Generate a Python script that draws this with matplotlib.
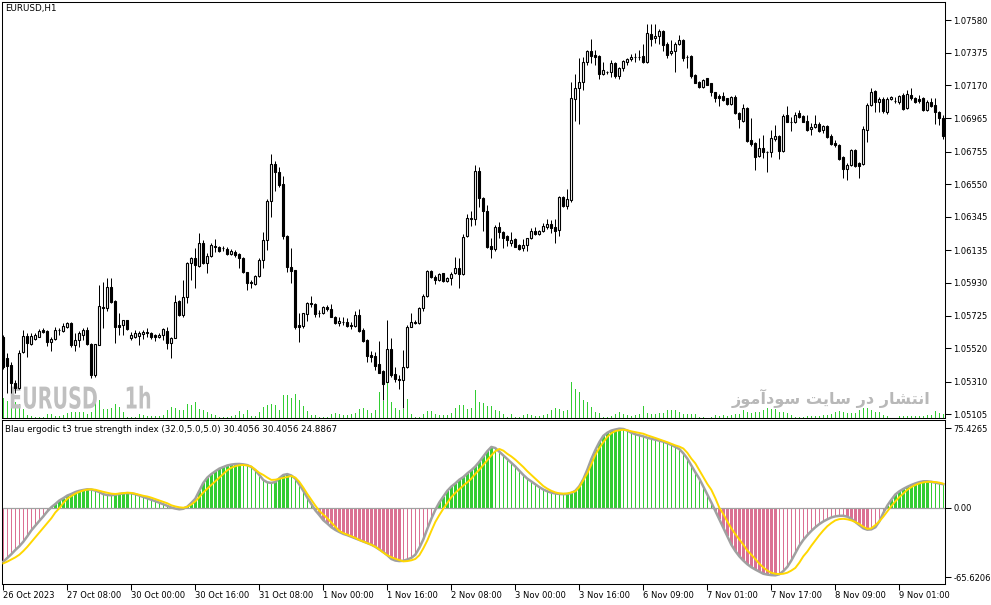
import numpy as np
import matplotlib
matplotlib.use("Agg")
import matplotlib.pyplot as plt
from matplotlib.patheffects import AbstractPathEffect
from matplotlib.transforms import Affine2D

plt.rcParams['font.family'] = ['DejaVu Sans']

# EURUSD H1 candles, 26 Oct 2023 16:00 .. 9 Nov 2023
opens = [1.05591, 1.05459, 1.05416, 1.05302, 1.05271, 1.05496, 1.05597, 1.05547, 1.05578, 1.05591,
         1.05635, 1.05629, 1.05559, 1.05578, 1.05635, 1.05629, 1.05654, 1.05679, 1.05541, 1.05572,
         1.05604, 1.05635, 1.05547, 1.05353, 1.05541, 1.05779, 1.05773, 1.05905, 1.05817, 1.05666,
         1.05666, 1.05698, 1.05585, 1.05591, 1.05597, 1.05610, 1.05622, 1.05616, 1.05604, 1.05591,
         1.05604, 1.05629, 1.05553, 1.05585, 1.05817, 1.05729, 1.05842, 1.06055, 1.06087, 1.06036,
         1.06181, 1.06055, 1.06099, 1.06162, 1.06156, 1.06149, 1.06143, 1.06112, 1.06124, 1.06112,
         1.06087, 1.05999, 1.05936, 1.05924, 1.05974, 1.06074, 1.06200, 1.06444, 1.06677, 1.06626,
         1.06551, 1.06225, 1.06030, 1.06011, 1.05666, 1.05660, 1.05735, 1.05804, 1.05798, 1.05742,
         1.05742, 1.05779, 1.05767, 1.05716, 1.05679, 1.05685, 1.05685, 1.05666, 1.05660, 1.05729,
         1.05635, 1.05572, 1.05478, 1.05472, 1.05422, 1.05378, 1.05309, 1.05516, 1.05359, 1.05328,
         1.05321, 1.05403, 1.05654, 1.05685, 1.05679, 1.05773, 1.05848, 1.06005, 1.05968, 1.05949,
         1.05992, 1.05942, 1.05961, 1.05992, 1.06024, 1.05986, 1.06225, 1.06331, 1.06331, 1.06633,
         1.06463, 1.06382, 1.06162, 1.06143, 1.06281, 1.06250, 1.06225, 1.06181, 1.06206, 1.06168,
         1.06149, 1.06168, 1.06212, 1.06256, 1.06237, 1.06256, 1.06281, 1.06300, 1.06281, 1.06262,
         1.06469, 1.06413, 1.06451, 1.07084, 1.07153, 1.07191, 1.07316, 1.07385, 1.07360, 1.07354,
         1.07241, 1.07254, 1.07254, 1.07310, 1.07229, 1.07279, 1.07316, 1.07335, 1.07348, 1.07348,
         1.07354, 1.07316, 1.07492, 1.07467, 1.07480, 1.07511, 1.07430, 1.07373, 1.07385, 1.07430,
         1.07455, 1.07348, 1.07354, 1.07235, 1.07191, 1.07160, 1.07216, 1.07185, 1.07128, 1.07103,
         1.07103, 1.07091, 1.07053, 1.07097, 1.06997, 1.06946, 1.07028, 1.06827, 1.06808, 1.06727,
         1.06777, 1.06752, 1.06752, 1.06834, 1.06852, 1.06758, 1.06984, 1.06940, 1.06940, 1.06997,
         1.06978, 1.06946, 1.06896, 1.06909, 1.06927, 1.06890, 1.06915, 1.06852, 1.06808, 1.06796,
         1.06720, 1.06645, 1.06670, 1.06764, 1.06683, 1.06677, 1.06890, 1.07047, 1.07134, 1.07065,
         1.07084, 1.07003, 1.07084, 1.07072, 1.07065, 1.07109, 1.07028, 1.07109, 1.07091, 1.07084,
         1.07091, 1.07015, 1.07065, 1.07047, 1.07003, 1.06965]
highs = [1.05604, 1.05490, 1.05434, 1.05321, 1.05509, 1.05635, 1.05616, 1.05616, 1.05616, 1.05641,
         1.05647, 1.05635, 1.05591, 1.05654, 1.05647, 1.05679, 1.05685, 1.05685, 1.05616, 1.05629,
         1.05647, 1.05654, 1.05553, 1.05547, 1.05918, 1.05936, 1.05961, 1.05961, 1.05823, 1.05742,
         1.05698, 1.05698, 1.05622, 1.05635, 1.05629, 1.05635, 1.05647, 1.05622, 1.05610, 1.05616,
         1.05647, 1.05654, 1.05591, 1.05855, 1.05823, 1.05949, 1.06062, 1.06093, 1.06149, 1.06244,
         1.06200, 1.06118, 1.06181, 1.06206, 1.06162, 1.06162, 1.06156, 1.06143, 1.06137, 1.06118,
         1.06093, 1.05999, 1.05949, 1.05980, 1.06087, 1.06250, 1.06457, 1.06739, 1.06695, 1.06658,
         1.06601, 1.06231, 1.06149, 1.06011, 1.05742, 1.05742, 1.05810, 1.05848, 1.05804, 1.05760,
         1.05785, 1.05792, 1.05798, 1.05723, 1.05716, 1.05716, 1.05710, 1.05685, 1.05754, 1.05767,
         1.05647, 1.05578, 1.05503, 1.05496, 1.05566, 1.05384, 1.05698, 1.05585, 1.05403, 1.05353,
         1.05509, 1.05666, 1.05742, 1.05698, 1.05779, 1.05861, 1.06011, 1.06011, 1.05980, 1.05992,
         1.05992, 1.05968, 1.05999, 1.06093, 1.06087, 1.06237, 1.06363, 1.06382, 1.06670, 1.06658,
         1.06469, 1.06419, 1.06212, 1.06294, 1.06313, 1.06256, 1.06231, 1.06250, 1.06212, 1.06175,
         1.06206, 1.06212, 1.06275, 1.06281, 1.06262, 1.06306, 1.06331, 1.06325, 1.06331, 1.06476,
         1.06476, 1.06520, 1.07191, 1.07241, 1.07342, 1.07348, 1.07392, 1.07461, 1.07392, 1.07360,
         1.07316, 1.07260, 1.07329, 1.07316, 1.07285, 1.07329, 1.07342, 1.07367, 1.07373, 1.07392,
         1.07430, 1.07555, 1.07555, 1.07555, 1.07524, 1.07517, 1.07442, 1.07455, 1.07442, 1.07486,
         1.07461, 1.07360, 1.07360, 1.07241, 1.07197, 1.07210, 1.07216, 1.07185, 1.07128, 1.07116,
         1.07128, 1.07091, 1.07103, 1.07109, 1.07003, 1.07053, 1.07034, 1.06965, 1.06815, 1.06840,
         1.06859, 1.06758, 1.06890, 1.06921, 1.06859, 1.06990, 1.07040, 1.06971, 1.07003, 1.07015,
         1.06984, 1.06984, 1.06934, 1.06984, 1.06940, 1.06921, 1.06921, 1.06865, 1.06827, 1.06802,
         1.06727, 1.06683, 1.06771, 1.06771, 1.06689, 1.06915, 1.07059, 1.07153, 1.07141, 1.07097,
         1.07097, 1.07097, 1.07103, 1.07097, 1.07109, 1.07122, 1.07141, 1.07153, 1.07097, 1.07109,
         1.07097, 1.07078, 1.07091, 1.07091, 1.07009, 1.06984]
lows = [1.05391, 1.05239, 1.05239, 1.05239, 1.05264, 1.05490, 1.05465, 1.05541, 1.05572, 1.05591,
        1.05616, 1.05534, 1.05503, 1.05572, 1.05604, 1.05622, 1.05647, 1.05528, 1.05503, 1.05528,
        1.05572, 1.05541, 1.05334, 1.05340, 1.05541, 1.05647, 1.05754, 1.05804, 1.05553, 1.05604,
        1.05604, 1.05635, 1.05572, 1.05585, 1.05541, 1.05578, 1.05591, 1.05578, 1.05566, 1.05585,
        1.05572, 1.05516, 1.05459, 1.05585, 1.05723, 1.05716, 1.05804, 1.05949, 1.05898, 1.06030,
        1.06049, 1.05992, 1.06093, 1.06124, 1.06124, 1.06131, 1.06105, 1.06105, 1.06093, 1.06024,
        1.05992, 1.05886, 1.05898, 1.05918, 1.05968, 1.06024, 1.06137, 1.06344, 1.06507, 1.06532,
        1.06206, 1.05999, 1.05930, 1.05641, 1.05559, 1.05647, 1.05691, 1.05779, 1.05716, 1.05716,
        1.05735, 1.05754, 1.05716, 1.05672, 1.05660, 1.05666, 1.05654, 1.05641, 1.05654, 1.05622,
        1.05559, 1.05434, 1.05434, 1.05384, 1.05365, 1.05196, 1.05309, 1.05340, 1.05309, 1.05264,
        1.05146, 1.05397, 1.05654, 1.05672, 1.05672, 1.05754, 1.05842, 1.05961, 1.05924, 1.05942,
        1.05936, 1.05936, 1.05918, 1.05986, 1.05898, 1.05980, 1.06219, 1.06287, 1.06294, 1.06407,
        1.06256, 1.06149, 1.06087, 1.06131, 1.06212, 1.06149, 1.06162, 1.06162, 1.06156, 1.06137,
        1.06131, 1.06131, 1.06206, 1.06231, 1.06231, 1.06250, 1.06269, 1.06244, 1.06181, 1.06225,
        1.06407, 1.06394, 1.06438, 1.06946, 1.06927, 1.07141, 1.07298, 1.07310, 1.07298, 1.07210,
        1.07235, 1.07241, 1.07222, 1.07216, 1.07210, 1.07260, 1.07298, 1.07323, 1.07316, 1.07329,
        1.07310, 1.07310, 1.07417, 1.07436, 1.07430, 1.07385, 1.07342, 1.07360, 1.07254, 1.07423,
        1.07323, 1.07279, 1.07216, 1.07185, 1.07153, 1.07153, 1.07172, 1.07103, 1.07065, 1.07040,
        1.07072, 1.07047, 1.07047, 1.06990, 1.06902, 1.06940, 1.06815, 1.06790, 1.06639, 1.06720,
        1.06714, 1.06626, 1.06720, 1.06821, 1.06708, 1.06752, 1.06940, 1.06883, 1.06934, 1.06965,
        1.06940, 1.06883, 1.06859, 1.06902, 1.06877, 1.06871, 1.06840, 1.06796, 1.06783, 1.06702,
        1.06588, 1.06576, 1.06664, 1.06658, 1.06588, 1.06670, 1.06815, 1.07040, 1.07003, 1.07003,
        1.06997, 1.06990, 1.07078, 1.07059, 1.07053, 1.07015, 1.07021, 1.07078, 1.07059, 1.07059,
        1.07009, 1.07009, 1.07034, 1.06927, 1.06921, 1.06834]
closes = [1.05403, 1.05409, 1.05302, 1.05271, 1.05490, 1.05597, 1.05553, 1.05597, 1.05604, 1.05629,
          1.05622, 1.05559, 1.05578, 1.05635, 1.05632, 1.05660, 1.05679, 1.05541, 1.05572, 1.05616,
          1.05635, 1.05547, 1.05353, 1.05547, 1.05785, 1.05773, 1.05905, 1.05810, 1.05654, 1.05654,
          1.05698, 1.05641, 1.05604, 1.05616, 1.05616, 1.05622, 1.05616, 1.05591, 1.05591, 1.05604,
          1.05641, 1.05553, 1.05585, 1.05810, 1.05729, 1.05842, 1.06055, 1.06087, 1.06043, 1.06181,
          1.06055, 1.06099, 1.06168, 1.06156, 1.06131, 1.06149, 1.06112, 1.06131, 1.06105, 1.06087,
          1.05999, 1.05930, 1.05930, 1.05974, 1.06074, 1.06200, 1.06444, 1.06677, 1.06626, 1.06545,
          1.06225, 1.06030, 1.06005, 1.05654, 1.05654, 1.05742, 1.05804, 1.05798, 1.05735, 1.05742,
          1.05779, 1.05767, 1.05716, 1.05679, 1.05691, 1.05685, 1.05660, 1.05660, 1.05729, 1.05629,
          1.05566, 1.05472, 1.05465, 1.05409, 1.05365, 1.05296, 1.05516, 1.05353, 1.05328, 1.05321,
          1.05403, 1.05654, 1.05685, 1.05679, 1.05773, 1.05848, 1.06005, 1.05968, 1.05949, 1.05986,
          1.05942, 1.05961, 1.05986, 1.06024, 1.05986, 1.06219, 1.06338, 1.06338, 1.06633, 1.06463,
          1.06382, 1.06156, 1.06143, 1.06281, 1.06250, 1.06212, 1.06200, 1.06200, 1.06156, 1.06143,
          1.06168, 1.06212, 1.06256, 1.06237, 1.06256, 1.06287, 1.06300, 1.06275, 1.06256, 1.06469,
          1.06413, 1.06457, 1.07091, 1.07153, 1.07191, 1.07316, 1.07385, 1.07354, 1.07348, 1.07241,
          1.07266, 1.07254, 1.07310, 1.07229, 1.07279, 1.07323, 1.07335, 1.07348, 1.07348, 1.07348,
          1.07316, 1.07498, 1.07461, 1.07480, 1.07511, 1.07423, 1.07360, 1.07385, 1.07430, 1.07455,
          1.07342, 1.07348, 1.07229, 1.07185, 1.07160, 1.07204, 1.07172, 1.07128, 1.07091, 1.07091,
          1.07078, 1.07053, 1.07097, 1.06997, 1.06959, 1.07028, 1.06821, 1.06802, 1.06720, 1.06777,
          1.06752, 1.06752, 1.06840, 1.06852, 1.06758, 1.06978, 1.06940, 1.06940, 1.06984, 1.06971,
          1.06940, 1.06890, 1.06909, 1.06927, 1.06883, 1.06915, 1.06846, 1.06802, 1.06796, 1.06708,
          1.06645, 1.06670, 1.06764, 1.06664, 1.06664, 1.06896, 1.07047, 1.07128, 1.07065, 1.07084,
          1.07009, 1.07084, 1.07097, 1.07072, 1.07103, 1.07021, 1.07116, 1.07091, 1.07065, 1.07072,
          1.07015, 1.07065, 1.07040, 1.07003, 1.06965, 1.06852]
# tick volumes
volumes = [2000, 1700, 1500, 1600, 1400, 900, 300, 200, 150, 100,
           100, 400, 400, 200, 200, 300, 500, 600, 600, 600,
           600, 400, 600, 1500, 1800, 900, 900, 1000, 1400, 1100,
           600, 100, 100, 100, 400, 300, 200, 200, 200, 200,
           300, 800, 1100, 1000, 800, 800, 1400, 1300, 1600, 900,
           800, 600, 400, 300, 100, 100, 100, 200, 300, 700,
           400, 800, 200, 200, 600, 1100, 1300, 1400, 1300, 800,
           2300, 2300, 2000, 2400, 1800, 1200, 700, 300, 300, 100,
           100, 100, 400, 500, 400, 300, 300, 400, 500, 900,
           1000, 800, 500, 800, 2600, 1700, 3500, 1600, 1000, 800,
           900, 1900, 400, 100, 100, 400, 700, 700, 400, 300,
           300, 300, 500, 1000, 1300, 1300, 900, 1000, 2800, 1600,
           1500, 1200, 1200, 800, 700, 400, 100, 400, 100, 100,
           300, 400, 300, 200, 200, 300, 400, 800, 1000, 900,
           700, 800, 3600, 2900, 2600, 1800, 1600, 1100, 600, 500,
           100, 100, 200, 400, 600, 400, 300, 200, 300, 400,
           1200, 500, 400, 400, 500, 500, 800, 800, 800, 600,
           400, 400, 400, 400, 100, 100, 50, 100, 300, 200,
           300, 200, 300, 400, 400, 800, 600, 500, 600, 600,
           800, 1000, 900, 900, 600, 600, 500, 300, 100, 100,
           100, 200, 200, 200, 200, 300, 300, 400, 600, 700,
           600, 500, 500, 500, 800, 1000, 1000, 800, 600, 600,
           300, 200, 50, 50, 200, 200, 200, 200, 200, 200,
           200, 300, 300, 700, 500, 400]

# Blau ergodic T3 TSI: main line (also the histogram) and signal
tsi_main = [-51.1, -47.5, -44, -40, -36.5, -32.2, -27, -21.5, -17, -12.5,
            -8.2, -3.5, 0.5, 3.5, 6.8, 9, 11.5, 13, 14.8, 16,
            16.8, 17.4, 17.2, 16.2, 14.8, 12.8, 12, 11.8, 12.3, 13,
            13.6, 13.8, 13.6, 12.8, 11.5, 10.2, 9, 7.6, 6.2, 4.8,
            3.3, 1.8, 0.2, -0.8, -1.5, -1, 1, 4.5, 8.5, 16,
            23.5, 28.5, 31.8, 34.5, 37, 38.5, 40, 40.8, 41.3, 41.4,
            41, 40.3, 38.5, 35.5, 31, 26.2, 24, 23.5, 24.3, 28,
            31, 31.8, 30.5, 27.5, 22, 16, 9.5, 3.5, -2.5, -7,
            -11.8, -15, -18.5, -21, -23, -24.8, -26, -27.5, -29, -30.5,
            -32, -33.5, -35, -37, -39.5, -42, -45, -48.5, -50, -50.5,
            -50.2, -49, -47.5, -44.5, -38, -30, -20, -10.5, -2, 5,
            10.5, 16, 20, 23, 26.5, 29, 32.5, 35.5, 39, 43.5,
            48.5, 53.5, 57.5, 56.5, 53, 49.5, 46, 42.5, 39, 35,
            31, 27.5, 24.8, 22, 19.5, 17.2, 15.5, 14.3, 13.5, 13,
            12.8, 13, 13.9, 16, 20.3, 27, 36, 46, 54.5, 62,
            68, 71, 73, 74, 74.8, 74.5, 73, 71, 69.5, 68.5,
            67.5, 66.2, 65.3, 64.5, 63.5, 62.5, 61, 59.5, 57.5, 55.5,
            51.5, 46.5, 40, 33.5, 27.5, 20, 12.5, 5, -3, -11,
            -19, -27, -35, -41, -46, -50, -53.5, -56.3, -58.5, -60.5,
            -62.5, -63.3, -63.8, -64, -63, -60, -56, -50, -43, -36,
            -30.5, -26, -22, -18.5, -15.5, -13, -11, -9.2, -8.2, -7.7,
            -7.6, -8.5, -10.5, -13.5, -16.5, -19.5, -20.8, -20.5, -18.5, -13,
            -5, 2, 7.5, 12.5, 15.5, 17.8, 19.8, 21.5, 23, 24.2,
            25, 25, 24.5, 23.7, 23, 22.2]
tsi_signal = [-52.7, -51, -49, -47, -44.5, -41, -37, -32.5, -28, -23.5,
              -19, -14.5, -10, -4.5, -0.5, 4.5, 8.5, 11, 13.3, 15,
              16.3, 17.2, 17.4, 17, 16, 15, 14.2, 13.3, 13, 13.4,
              13.9, 14.2, 14, 13.2, 12.2, 11.3, 10.6, 9.5, 8.2, 6.8,
              5.6, 4.2, 2.3, 1.2, 0.4, 0, 0.8, 3, 6, 10,
              14.5, 18, 21.5, 25, 28.5, 32, 35.5, 37.8, 39.3, 40.2,
              40.4, 40, 39, 36, 33, 31, 28.5, 26.3, 26.5, 27.4,
              28.3, 29.3, 30, 28.5, 24.5, 19, 13, 7.5, 2, -3,
              -6.5, -10, -14, -18, -22, -24, -25.5, -27, -28.5, -30.5,
              -32, -33.5, -35, -36.9, -39.5, -42.5, -45, -46.8, -48.3, -49.5,
              -50.8, -50.5, -49.8, -48.5, -45, -38.5, -31, -22, -13.5, -7,
              -1, 4.5, 10, 14, 17.5, 21, 24, 27.5, 32, 36,
              40.5, 45, 49.5, 53.5, 55.6, 54, 51, 48.5, 45.5, 42,
              38.5, 34.5, 31, 27.5, 24, 20.5, 18, 16, 14.5, 13.6,
              13.3, 13.5, 14.5, 15.5, 19.5, 26, 32.5, 41, 50, 56.5,
              62, 67, 70.5, 72.5, 73.3, 73.8, 73.3, 72.3, 71.5, 70.8,
              70, 68.5, 67.3, 66, 64.7, 63.3, 62, 60.5, 59, 57.8,
              56, 52, 46.5, 42, 35.5, 29, 22.5, 17, 9, 0,
              -6, -13, -19.5, -25, -30, -35, -40.5, -44.5, -48.5, -53,
              -56.5, -59.5, -61.5, -62.5, -62.8, -62.5, -61.5, -59.5, -57, -52,
              -46, -41.5, -36, -31, -26, -21.5, -17.5, -14.5, -12, -10.8,
              -10.5, -11, -12, -13.5, -15.5, -18, -20, -19.5, -16.5, -13,
              -8.5, -3.5, 1.5, 6, 10, 13.5, 17, 19.5, 21.5, 23,
              24, 24.5, 24.5, 24.3, 23.7, 22.7]

price_ticks = [1.07580, 1.07375, 1.07170, 1.06965, 1.06755, 1.06550, 1.06345,
               1.06135, 1.05930, 1.05725, 1.05520, 1.05310, 1.05105]
ind_ticks = [75.4265, 0.0, -65.6206]
ind_labels = ["75.4265", "0.00", "-65.6206"]
time_labels = ["26 Oct 2023", "27 Oct 08:00", "30 Oct 00:00", "30 Oct 16:00",
               "31 Oct 08:00", "1 Nov 00:00", "1 Nov 16:00", "2 Nov 08:00",
               "3 Nov 00:00", "3 Nov 16:00", "6 Nov 09:00", "7 Nov 01:00",
               "7 Nov 17:00", "8 Nov 09:00", "9 Nov 01:00"]

# "انتشار در سایت سودآموز" written with Arabic presentation forms in visual order,
# matplotlib has no shaping of its own
watermark_fa = ("\uFEAF\uFEEE\uFEE3\uFE81\uFEA9\uFEEE\uFEB3 "
                "\uFE96\uFBFE\uFE8E\uFEB3 \uFEAD\uFEA9 "
                "\uFEAD\uFE8E\uFEB8\uFE98\uFEE7\uFE8D")

W, H = 991, 605
PX = 0.72  # one pixel in points at dpi 100
ONE = 0.25  # one pixel in bar units (4 px per bar)


class Squeeze(AbstractPathEffect):
    # narrow the glyphs horizontally (condensed look of the MT4 watermark)
    def __init__(self, sx):
        super().__init__()
        self.sx = sx

    def draw_path(self, renderer, gc, tpath, affine, rgbFace=None):
        x0, _ = affine.transform((0, 0))
        narrow = Affine2D().translate(-x0, 0).scale(self.sx, 1).translate(x0, 0)
        renderer.draw_path(gc, tpath, affine + narrow, rgbFace)


def box(x0, y0, x1, y1):
    # pixel box (top-left origin) -> figure fraction rect
    return [x0 / W, 1 - y1 / H, (x1 - x0) / W, (y1 - y0) / H]


fig = plt.figure(figsize=(W / 100, H / 100), dpi=100)
ax_vol = fig.add_axes(box(2, 2, 945, 418))
ax = fig.add_axes(box(2, 2, 945, 418), sharex=ax_vol)
ax2 = fig.add_axes(box(2, 420, 945, 584), sharex=ax_vol)
ax.patch.set_alpha(0)

o = np.array(opens)
h = np.array(highs)
l = np.array(lows)
c = np.array(closes)
n = len(c)
x = np.arange(n)

# volumes in the bottom of the price window, 1 px wide
ax_vol.bar(x, volumes, width=ONE, color='#32cd32', linewidth=0, antialiased=False)
ax_vol.set_ylim(0, 41600)
ax_vol.set_axis_off()
ax_vol.text(9 / W, 1 - 408.5 / H, "EURUSD    1h", transform=fig.transFigure,
            fontsize=21.6, fontweight='bold', color='#c0c0c0', va='baseline', ha='left',
            zorder=5, path_effects=[Squeeze(0.64)])
ax_vol.text(930 / W, 1 - 404 / H, watermark_fa, transform=fig.transFigure,
            fontsize=11.6, fontweight='bold', color='#b8b8b8', va='baseline', ha='right',
            zorder=5)

# candles
ax.vlines(x, l, h, colors='black', linewidth=PX, snap=True, zorder=1)
bull = c >= o
ax.bar(x, np.abs(c - o), width=0.55, bottom=np.minimum(o, c),
       color=np.where(bull, 'white', 'black'), edgecolor='black', linewidth=0.8, zorder=2)
ax.set_xlim(-0.33, 235.42)
ax.set_ylim(1.05083, 1.07693)
ax.yaxis.tick_right()
ax.set_yticks(price_ticks, [f"{t:.5f}" for t in price_ticks])
ax.tick_params(axis='y', direction='out', length=4, width=0.75, pad=2, labelsize=6)
ax.tick_params(axis='x', bottom=False, labelbottom=False)
ax.text(5 / W, 1 - 9 / H, "EURUSD,H1", transform=fig.transFigure, fontsize=6.3,
        va='center', ha='left')

# indicator window: thick bars while the histogram grows away from zero
hist = np.array(tsi_main)
rising = np.r_[True, np.diff(hist) >= 0]
cols = np.where(hist >= 0, '#32cd32', '#db7093')
thick = (hist >= 0) & rising | (hist < 0) & ~rising
ax2.bar(x, hist, width=np.where(thick, 3 * ONE, ONE), color=cols, linewidth=0,
        antialiased=False, zorder=1)
ax2.axhline(0, color='#a0a0a0', linewidth=0.9, zorder=2)
ax2.plot(x, tsi_main, color='#a0a0a0', linewidth=1.8, zorder=3)
ax2.plot(x, tsi_signal, color='#ffd700', linewidth=1.4, zorder=4)
ax2.set_ylim(-72.2, 83.0)
ax2.yaxis.tick_right()
ax2.set_yticks(ind_ticks, ind_labels)
ax2.tick_params(axis='y', direction='out', length=4, width=0.75, pad=2, labelsize=6)
ax2.set_xticks(x[::16], time_labels)
ax2.tick_params(axis='x', direction='out', length=4, width=0.75, pad=1, labelsize=6)
for t in ax2.get_xticklabels():
    t.set_horizontalalignment('left')
ax2.text(5 / W, 1 - 430 / H,
         "Blau ergodic t3 true strength index (32.0,5.0,5.0) 30.4056 30.4056 24.8867",
         transform=fig.transFigure, fontsize=6.3, va='center', ha='left')

for a in (ax, ax2):
    for s in a.spines.values():
        s.set_linewidth(0.75)
        s.set_color('black')

fig.savefig("out.png", dpi=100)
